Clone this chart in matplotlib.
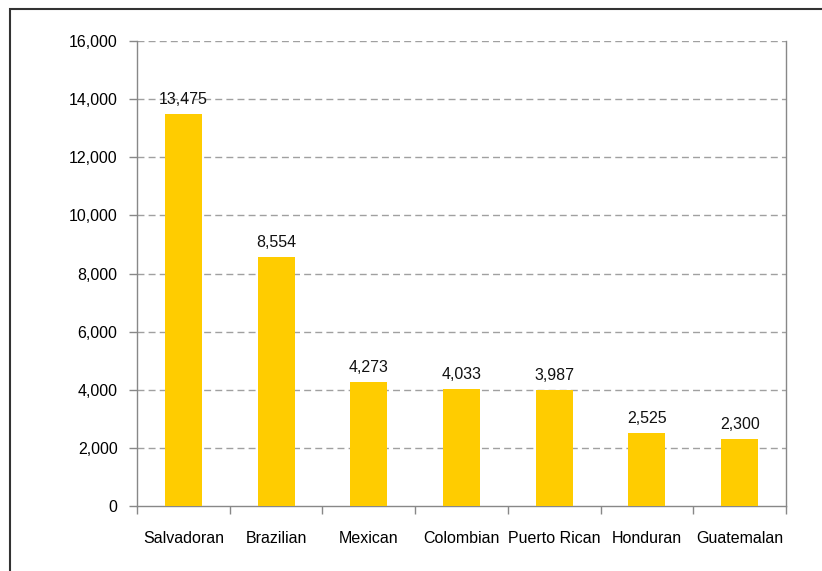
import matplotlib
matplotlib.use("Agg")
import matplotlib.pyplot as plt
from matplotlib.patches import Rectangle
from matplotlib.ticker import FuncFormatter, FixedLocator
import numpy as np

categories = ["Salvadoran", "Brazilian", "Mexican", "Colombian", "Puerto Rican", "Honduran", "Guatemalan"]
values = [13475, 8554, 4273, 4033, 3987, 2525, 2300]
yticks = [0, 2000, 4000, 6000, 8000, 10000, 12000, 14000, 16000]

plt.rcParams['font.family'] = ['Liberation Sans Narrow', 'Liberation Sans', 'DejaVu Sans']

W, H = 822, 571
fig = plt.figure(figsize=(W/100, H/100), dpi=100)
# outer frame
fig.patches.append(Rectangle((10/W, -0.1), 1.2, (H-9)/H + 0.1, transform=fig.transFigure,
                             fill=False, edgecolor='#333333', linewidth=1.5))

ax = fig.add_axes([137/W, 1-506/H, (786-137)/W, (506-41)/H])
x = np.arange(len(categories))
ax.bar(x, values, width=0.4, color='#FFCC00', zorder=3)
fs = 11.5
for xi, v in zip(x, values):
    ax.annotate(f"{v:,}", (xi, v), xytext=(0, 5), textcoords='offset points',
                ha='center', va='bottom', fontsize=fs, color='#111111')

ax.set_xlim(-0.5, len(categories)-0.5)
ax.set_ylim(0, 16000)
ax.set_yticks(yticks)
ax.yaxis.set_major_formatter(FuncFormatter(lambda v, p: f"{int(v):,}"))
ax.set_xticks(x)
ax.set_xticklabels(categories)
ax.xaxis.set_minor_locator(FixedLocator(np.arange(-0.5, len(categories), 1.0)))
ax.tick_params(axis='x', which='major', length=0, pad=18, labelsize=fs)
ax.tick_params(axis='x', which='minor', length=6, color='#888888', width=1)
ax.tick_params(axis='y', length=6, color='#888888', width=1, pad=8, labelsize=fs)

for g in yticks[1:]:
    ax.axhline(g, color='#a0a0a0', linestyle=(0, (5, 3)), linewidth=1, zorder=1)

for s in ['left', 'right', 'bottom']:
    ax.spines[s].set_color('#888888')
    ax.spines[s].set_linewidth(1)
ax.spines['top'].set_visible(False)

fig.savefig("out.png", dpi=100)
